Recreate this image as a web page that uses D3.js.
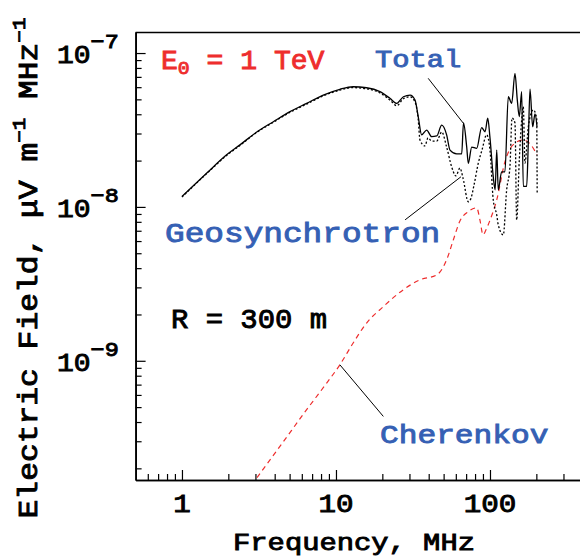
<!DOCTYPE html>
<html>
<head>
<meta charset="utf-8">
<script src="https://cdn.jsdelivr.net/npm/d3@7/dist/d3.min.js"></script>
<style>
  html, body { margin: 0; padding: 0; background: #fff; }
  svg { display: block; }
</style>
</head>
<body>
<svg id="chart" width="580" height="557"></svg>
<script>
// Radio emission spectrum of a 1 TeV air shower at R = 300 m.
// Frequencies in MHz, field strengths in µV m^-1 MHz^-1.

// Total field (solid line)
const totalFreq = [1.0, 1.45, 1.95, 2.38, 3.06, 3.92, 5.03, 6.45, 8.27, 10.6, 12.9, 15.8, 19.3, 22.4,
  24.8, 27.4, 30.3, 32.6, 34.2, 36.0, 38.8, 41.8, 45.1, 48.6, 52.3, 55.0, 60.8, 65.5, 67.3, 70.6,
  72.3, 76.1, 82.0, 88.3, 92.9, 96.7, 100, 105, 108, 110.6, 113.2, 119, 125, 131.5, 138.3, 145.3,
  150.4, 155, 160.6, 164.5, 173, 177.3, 181.9, 189.3, 196, 202];
const totalField = [1.17e-8, 1.66e-8, 2.18e-8, 2.53e-8, 3.07e-8, 3.58e-8, 4.16e-8, 4.71e-8, 5.33e-8,
  5.81e-8, 6.04e-8, 5.95e-8, 5.61e-8, 5.08e-8, 4.71e-8, 5.2e-8, 5.33e-8, 4.95e-8, 3.86e-8, 2.94e-8,
  3.16e-8, 2.86e-8, 2.89e-8, 3.40e-8, 2.94e-8, 2.34e-8, 2.21e-8, 2.21e-8, 3.51e-8, 2.45e-8, 1.92e-8,
  2.45e-8, 2.40e-8, 3.28e-8, 3.08e-8, 3.77e-8, 2.81e-8, 1.57e-8, 1.29e-8, 2.34e-8, 1.29e-8, 1.69e-8,
  1.69e-8, 5.2e-8, 4.71e-8, 7.38e-8, 4.96e-8, 3.86e-8, 5.61e-8, 1.36e-8, 1.36e-8, 2.59e-8, 5.83e-8,
  3.32e-8, 4.02e-8, 3.32e-8];

// Geosynchrotron component (dotted line)
const geoFreq = [1.0, 1.45, 1.95, 2.38, 3.06, 3.92, 5.03, 6.45, 8.27, 10.6, 12.9, 15.8, 19.3, 22.4,
  24.8, 27.4, 30.3, 32.6, 34.2, 35.1, 37.8, 39.6, 41.8, 45.1, 48.6, 52.3, 56.4, 60.1, 63.8, 66.8,
  72.3, 75.3, 78.8, 84.0, 88.7, 95.2, 100, 105, 110.6, 113.2, 122, 128.3, 134.8, 139, 145.3, 149,
  155, 160.6, 164.5, 168.7, 177.3, 191, 201, 202.5];
const geoField = [1.16e-8, 1.65e-8, 2.16e-8, 2.51e-8, 3.05e-8, 3.55e-8, 4.12e-8, 4.66e-8, 5.27e-8,
  5.74e-8, 5.96e-8, 5.86e-8, 5.50e-8, 4.95e-8, 4.55e-8, 5.05e-8, 5.2e-8, 4.8e-8, 3.7e-8, 2.72e-8,
  2.49e-8, 2.81e-8, 2.68e-8, 2.68e-8, 3.07e-8, 2.45e-8, 1.82e-8, 1.59e-8, 1.79e-8, 1.54e-8, 1.08e-8,
  1.14e-8, 1.39e-8, 1.93e-8, 2.34e-8, 2.94e-8, 2.34e-8, 1.11e-8, 8.87e-9, 7.64e-9, 6.58e-9, 1.29e-8,
  1.83e-8, 3.78e-8, 3.51e-8, 8.24e-9, 2.02e-8, 3.67e-8, 4.48e-8, 1.93e-8, 3.30e-8, 4.27e-8, 3.78e-8,
  1.21e-8];

// Cherenkov component (red dashed line)
const cherFreq = [3.07, 4.55, 6.45, 8.70, 10.6, 12.9, 15.8, 20.3, 27.3, 35.1, 45.1, 52.3, 57.8, 63.8,
  71.9, 82.0, 86.1, 90.1, 94.2, 100, 110.6, 125, 141, 164, 184.5, 202];
const cherField = [1.74e-10, 2.98e-10, 4.81e-10, 7.16e-10, 9.42e-10, 1.30e-9, 1.76e-9, 2.25e-9,
  2.89e-9, 3.36e-9, 3.61e-9, 4.53e-9, 6.1e-9, 8.1e-9, 9.3e-9, 9.86e-9, 8.2e-9, 6.6e-9, 7.1e-9, 8.2e-9,
  1.11e-8, 1.96e-8, 2.53e-8, 2.72e-8, 2.53e-8, 2.18e-8];

// Axis ticks and labels
const xMajorTicks = [1, 10, 100];
const xTickLabels = ["1", "10", "100"];
const xMinorTicks = [0.6, 0.7, 0.8, 0.9, 2, 3, 4, 5, 6, 7, 8, 9, 20, 30, 40, 50, 60, 70, 80, 90,
  200, 300, 400, 500, 600, 700, 800, 900];
const yMajorExponents = [-7, -8, -9];
const yMinorTicks = [2e-10, 3e-10, 4e-10, 5e-10, 6e-10, 7e-10, 8e-10, 9e-10,
  2e-9, 3e-9, 4e-9, 5e-9, 6e-9, 7e-9, 8e-9, 9e-9,
  2e-8, 3e-8, 4e-8, 5e-8, 6e-8, 7e-8, 8e-8, 9e-8];

// Pointer lines from labels to curves: [freq, field] pairs
const totalPointer = [[39.7, 6.85e-8], [67.1, 3.5e-8]];
const geoPointer = [[28.1, 8.24e-9], [64.8, 1.57e-8]];
const cherPointer = [[10.6, 9.42e-10], [20.3, 4.35e-10]];

const FONT = "'Liberation Mono', 'DejaVu Sans Mono', monospace";
const BLUE = "#3560b4";
const RED = "#ee2d2d";

const svg = d3.select("#chart");
const plot = { left: 135.6, right: 644, top: 32, bottom: 480 };

const x = d3.scaleLog().domain([0.5, 1000]).range([plot.left, plot.right]);
const y = d3.scaleLog().domain([1.68e-10, 1.37e-7]).range([plot.bottom, plot.top]);

// Clip area for the curves
svg.append("defs").append("clipPath").attr("id", "plotClip")
  .append("rect")
  .attr("x", plot.left).attr("y", plot.top)
  .attr("width", plot.right - plot.left).attr("height", plot.bottom - plot.top);

// Text helper: multi-part text with optional horizontal stretch and rotation
function label(px, py, parts, opts) {
  const fill = opts.fill || "#000";
  const tf = `translate(${px},${py})` + (opts.rotate ? ` rotate(${opts.rotate})` : "") +
    ` scale(${opts.sx || 1},1)`;
  const t = svg.append("g").attr("transform", tf)
    .append("text")
    .attr("font-family", FONT)
    .attr("font-weight", "normal")
    .attr("font-size", opts.size)
    .attr("fill", fill)
    .attr("stroke", fill)
    .attr("stroke-width", opts.sw || 0.9)
    .attr("text-anchor", opts.anchor || "start");
  parts.forEach(p => {
    t.append("tspan").attr("dy", p.dy || 0).attr("font-size", p.size || opts.size).text(p.text);
  });
  return t;
}

// ---- Axes ----
const axisStroke = g => {
  g.selectAll("path.domain").attr("stroke", "#000").attr("stroke-width", 1.6);
  g.selectAll(".tick line").attr("stroke", "#000").attr("stroke-width", 1.2);
  g.selectAll(".tick text").remove();
};

svg.append("g").attr("transform", `translate(0,${plot.bottom})`)
  .call(d3.axisBottom(x).tickValues(xMinorTicks).tickSizeInner(-6).tickSizeOuter(0).tickFormat(""))
  .call(axisStroke);
svg.append("g").attr("transform", `translate(0,${plot.bottom})`)
  .call(d3.axisBottom(x).tickValues(xMajorTicks).tickSizeInner(-10).tickSizeOuter(0).tickFormat(""))
  .call(axisStroke);
svg.append("g").attr("transform", `translate(${plot.left},0)`)
  .call(d3.axisLeft(y).tickValues(yMinorTicks).tickSizeInner(-6).tickSizeOuter(0).tickFormat(""))
  .call(axisStroke);
svg.append("g").attr("transform", `translate(${plot.left},0)`)
  .call(d3.axisLeft(y).tickValues(yMajorExponents.map(e => Math.pow(10, e)))
    .tickSizeInner(-10).tickSizeOuter(0).tickFormat(""))
  .call(axisStroke);

// Top frame line
svg.append("line")
  .attr("x1", plot.left).attr("x2", plot.right)
  .attr("y1", plot.top + 0.5).attr("y2", plot.top + 0.5)
  .attr("stroke", "#000").attr("stroke-width", 1.6);

// X tick labels
xMajorTicks.forEach((v, i) => {
  label(x(v), plot.bottom + 32, [{ text: xTickLabels[i] }], { size: 25, sx: 1.17, anchor: "middle" });
});

// Y tick labels: 10^n
yMajorExponents.forEach(e => {
  label(57, y(Math.pow(10, e)) + 10,
    [{ text: "10" }, { text: "\u2212" + Math.abs(e), size: 21, dy: -15 }],
    { size: 25, sx: 1.12 });
});

// Axis titles
label(354, 550, [{ text: "Frequency, MHz" }], { size: 24, sx: 1.2, anchor: "middle" });
label(37, 268, [
  { text: "Electric Field, \u03bcV m" },
  { text: "\u22121", size: 18, dy: -12 },
  { text: " MHz", dy: 12 },
  { text: "\u22121", size: 18, dy: -12 }
], { size: 27, sx: 1.16, anchor: "middle", rotate: -90 });

// ---- Curves ----
const line = d3.line().x(d => x(d[0])).y(d => y(d[1])).curve(d3.curveMonotoneX);
const straight = d3.line().x(d => x(d[0])).y(d => y(d[1]));
const curves = svg.append("g").attr("clip-path", "url(#plotClip)");

curves.append("path")
  .datum(d3.zip(cherFreq, cherField))
  .attr("d", line)
  .attr("fill", "none").attr("stroke", RED).attr("stroke-width", 1.2)
  .attr("stroke-dasharray", "5,4");

curves.append("path")
  .datum(d3.zip(geoFreq, geoField))
  .attr("d", line)
  .attr("fill", "none").attr("stroke", "#000").attr("stroke-width", 1.3)
  .attr("stroke-dasharray", "2,2");

curves.append("path")
  .datum(d3.zip(totalFreq, totalField))
  .attr("d", line)
  .attr("fill", "none").attr("stroke", "#000").attr("stroke-width", 1.3);

// Pointer lines
[totalPointer, geoPointer, cherPointer].forEach(p => {
  svg.append("path").datum(p).attr("d", straight)
    .attr("fill", "none").attr("stroke", "#000").attr("stroke-width", 1);
});

// ---- Annotations ----
label(161, 69, [
  { text: "E" },
  { text: "0", size: 19, dy: 5 },
  { text: " = 1 TeV", dy: -5 }
], { size: 27, sx: 1.04, fill: RED });

label(375, 67, [{ text: "Total" }], { size: 24, sx: 1.2, fill: BLUE });
label(165, 242, [{ text: "Geosynchrotron" }], { size: 28, sx: 1.17, fill: BLUE });
label(380, 443, [{ text: "Cherenkov" }], { size: 26, sx: 1.2, fill: BLUE });
label(171, 328, [{ text: "R = 300 m" }], { size: 27, sx: 1.07, fill: "#000" });
</script>
</body>
</html>
